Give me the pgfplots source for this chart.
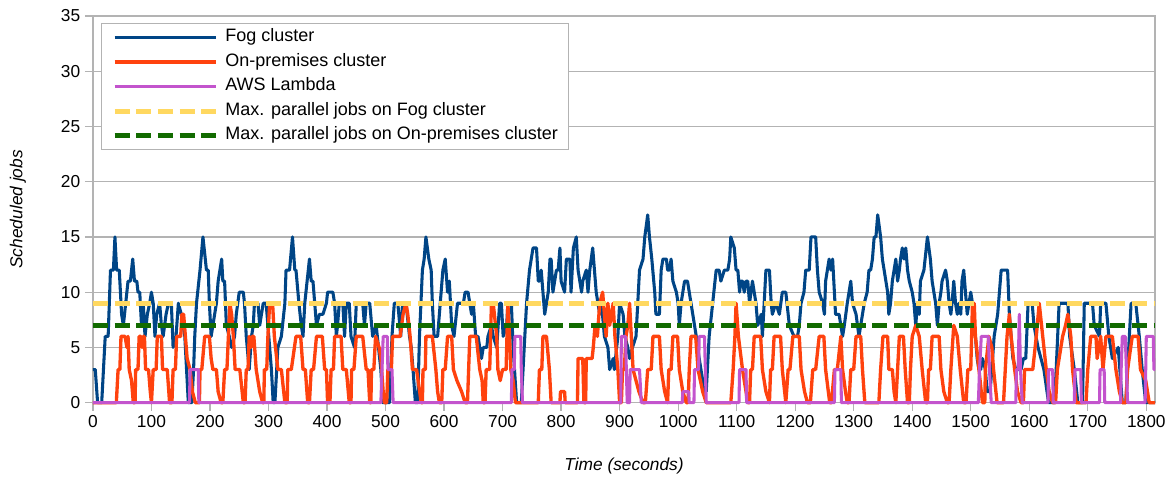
\documentclass[border=0pt]{standalone}
\usepackage{fontspec}
\setmainfont{Liberation Sans}
\usepackage{pgfplots}
\pgfplotsset{compat=1.18}

\definecolor{fogblue}{HTML}{004586}
\definecolor{premorange}{HTML}{FF420E}
\definecolor{lambdapurple}{HTML}{C354CD}
\definecolor{maxyellow}{HTML}{FFD860}
\definecolor{maxgreen}{HTML}{126B00}
\definecolor{gridgray}{HTML}{B3B3B3}

\begin{document}
\begin{tikzpicture}
\begin{axis}[
    scale only axis,
    width=797.25pt, height=290.25pt,
    xmin=0, xmax=1815,
    ymin=0, ymax=35,
    xtick={0,100,...,1800},
    ytick={0,5,...,35},
    xtick pos=bottom, ytick pos=left,
    tick align=outside,
    major tick length=6pt,
    ymajorgrids=true,
    grid style={gridgray, line width=0.9pt},
    axis line style={gridgray, line width=0.9pt},
    tick style={gridgray, line width=0.9pt},
    ticklabel style={font=\fontsize{13}{15}\selectfont},
    /pgf/number format/assume math mode=true,
    /pgf/number format/set thousands separator={},
    xlabel={\itshape Time (seconds)},
    ylabel={\itshape Scheduled jobs},
    every axis x label/.style={at={(axis description cs:0.5,0)}, anchor=center, yshift=-47.25pt, font=\fontsize{13}{15}\selectfont},
    every axis y label/.style={at={(axis description cs:0,0.5)}, anchor=center, rotate=90, yshift=56.25pt, font=\fontsize{13}{15}\selectfont},
    clip=false,
    legend cell align=left,
    legend image code/.code={\draw[#1] (0pt,0pt) -- (75.75pt,0pt);},
    legend style={
        at={(axis description cs:0.0075,0.982)}, anchor=north west,
        draw=gridgray, line width=0.9pt, fill=white,
        font=\fontsize{13.5}{15}\selectfont,
        inner xsep=8pt, inner ysep=4.2pt,
        column sep=5.5pt, row sep=5.9pt,
        nodes={inner sep=0pt, text height=9.5pt, text depth=3pt},
    },
]
\coordinate (O) at (rel axis cs:0,0);

% Fog cluster
\addplot[fogblue, line width=2.3pt, line join=round] coordinates {
(0,3)(4,3)(8,0)(15,0)(18,3)(21,6)(26,6)(30,12)(35,12)(37.6,15)(40.5,12)(45,12)(49,8)(52,7)(56,9)(60,11)(64,11)(68,13)(71,11)(75,11)(77,10)(80,10)(83,7)(86,9)(89,6)(93,8)(97,9)(100,10)(103,9)(106,6)(109,8)(114,9)(117,7)(120,6)(125,8)(129,9)(134,9)(137,5)(142,6)(146,9)(151,8)(157,6)(160,3)(163,0)(169,0)(172,3)(174,6)(177,9)(183,12)(188,15)(194,12)(197,12)(199,9)(202,6)(205,7)(211,9)(214,11)(220,13)(222,11)(225,11)(228,7)(233,6)(237,5)(242,6)(245,8)(250,10)(257,10)(259,9)(262,6)(267,3)(271,6)(274,7)(276,9)(282,9)(285,7)(291,9)(296,9)(299,7)(305,3)(308,0)(311,0)(314,3)(316,5)(322,6)(328,9)(330,12)(336,12)(341,15)(345,12)(347,12)(352,9)(356,7)(359,6)(362,9)(366,11)(370,13)(373,11)(376,11)(379,9)(382,7)(387,8)(393,8)(399,9)(401,10)(410,10)(413,9)(416,6)(418,7)(421,9)(427,9)(430,6)(433,9)(438,9)(441,6)(447,5)(450,9)(455,9)(461,9)(464,7)(467,9)(473,9)(478,6)(484,7)(492,3)(495,0)(507,0)(511,6)(515,9)(521,9)(526,6)(529,9)(535,9)(541,6)(544,5)(547,3)(551,0)(555,0)(558,6)(563,12)(566,13)(569,15)(574,13)(578,12)(580,9)(583,6)(589,6)(595,10)(598,12)(602,13)(606,10)(609,11)(613,7)(617,6)(623,9)(627,9)(633,9)(636,10)(641,10)(647,8)(650,9)(654,6)(658,6)(664,4)(667,5)(673,5)(675,6)(681,7)(684,6)(690,5)(695,9)(698,9)(701,6)(707,7)(709,9)(715,9)(718,5)(724,0)(732,0)(735,3)(741,9)(746,12)(752,14)(758,14)(761,11)(763,11)(766,12)(772,8)(778,10)(781,13)(783,13)(786,10)(792,12)(795,12)(798,14)(800,11)(806,10)(809,13)(815,13)(817,10)(821,14)(826,15)(829,12)(835,10)(837,11)(843,12)(846,10)(849,12)(854,14)(857,12)(860,10)(866,8)(869,9)(874,6)(880,5)(883,3)(889,4)(891,3)(897,6)(900,9)(906,8)(909,6)(914,5)(917,4)(922,5)(928,6)(934,12)(940,13)(943,15)(948,17)(951,15)(955,13)(960,10)(962,8)(968,8)(971,12)(974,13)(980,13)(982,12)(985,12)(988,13)(991,11)(997,10)(1000,9)(1002,7)(1005,9)(1011,11)(1016,11)(1019,10)(1022,9)(1025,8)(1028,7)(1031,6)(1036,4)(1039,3)(1045,1)(1048,1)(1053,6)(1059,9)(1065,12)(1070,12)(1073,11)(1079,12)(1085,12)(1088,13)(1090,15)(1096,14)(1099,12)(1102,12)(1105,10)(1107,11)(1110,11)(1113,10)(1116,11)(1119,11)(1122,9)(1127,11)(1133,9)(1136,7)(1142,8)(1144,6)(1147,9)(1150,12)(1156,12)(1159,9)(1161,8)(1167,9)(1173,8)(1178,10)(1184,10)(1190,7)(1198,6)(1204,6)(1207,7)(1210,9)(1215,10)(1218,12)(1224,12)(1227,15)(1235,15)(1238,12)(1241,10)(1247,9)(1250,8)(1252,11)(1255,12)(1258,13)(1261,12)(1264,13)(1267,10)(1269,8)(1275,8)(1278,7)(1281,6)(1284,7)(1289,9)(1292,10)(1295,11)(1298,9)(1304,8)(1309,6)(1312,7)(1315,8)(1318,9)(1323,10)(1326,12)(1329,12)(1332,13)(1335,15)(1338,15)(1341,17)(1346,15)(1349,13)(1352,12)(1355,11)(1358,10)(1360,8)(1363,9)(1366,11)(1369,12)(1372,13)(1375,11)(1378,12)(1380,13)(1383,14)(1386,13)(1389,14)(1392,12)(1395,11)(1400,10)(1403,9)(1406,7)(1409,9)(1412,8)(1414,11)(1420,12)(1426,15)(1431,13)(1434,11)(1437,10)(1440,9)(1443,7)(1446,9)(1449,10)(1451,11)(1457,12)(1460,11)(1463,9)(1466,8)(1468,9)(1471,11)(1474,9)(1477,8)(1480,9)(1483,8)(1485,11)(1488,12)(1491,10)(1494,8)(1497,9)(1500,10)(1503,9)(1505,8)(1508,6)(1511,4)(1514,3)(1517,3)(1520,4)(1525,3)(1528,1)(1533,1)(1536,3)(1540,6)(1546,8)(1552,12)(1563,12)(1566,8)(1572,4)(1577,3)(1586,3)(1590,4)(1594,4)(1598,9)(1605,9)(1608,7)(1615,5)(1625,3)(1633,0)(1643,0)(1646,3)(1651,9)(1666,9)(1669,6)(1677,3)(1683,0)(1691,0)(1694,9)(1708,9)(1711,7)(1720,6)(1722,9)(1731,9)(1736,6)(1742,4)(1752,5)(1759,0)(1765,0)(1771,6)(1774,9)(1782,9)(1788,6)(1793,3)(1799,0)(1815,0)
};
\addlegendentry{Fog cluster}

% On-premises cluster
\addplot[premorange, line width=2.5pt, line join=round] coordinates {
(0,0)(40,0)(43,3)(46,3)(48,6)(55,6)(58,5)(60,6)(62,3)(66,2)(69,0)(72,0)(73,3)(77,3)(79,6)(82,6)(84,5)(86,6)(88,6)(90,3)(95,3)(98,1)(100,0)(103,3)(108,3)(110,6)(117,6)(119,3)(127,3)(131,0)(135,0)(137,3)(141,3)(143,6)(150,6)(152,8)(155,8)(158,6)(161,4)(166,3)(170,1)(175,0)(182,0)(183,3)(186,3)(191,6)(199,6)(202,4)(205,3)(211,3)(214,1)(219,0)(222,0)(225,3)(229,3)(234,9)(237,8)(240,6)(243,3)(251,3)(257,0)(260,0)(262,3)(265,3)(267,6)(270,5)(272,6)(275,6)(279,3)(285,1)(290,0)(292,0)(293,3)(297,3)(299,6)(302,9)(307,9)(310,6)(316,3)(322,3)(328,0)(332,0)(333,3)(339,3)(347,6)(355,6)(359,3)(363,3)(367,0)(370,0)(373,3)(377,3)(382,6)(392,6)(396,3)(399,3)(401,0)(405,0)(407,3)(411,3)(413,6)(424,6)(427,3)(433,3)(438,0)(441,0)(442,3)(446,3)(450,6)(461,6)(467,3)(470,3)(473,0)(475,0)(476,3)(480,3)(483,6)(489,5)(492,4)(496,1)(498,0)(502,0)(504,3)(510,3)(512,6)(525,6)(530,8)(535,9)(538,8)(542,6)(546,3)(553,3)(561,0)(563,0)(564,3)(568,3)(569,6)(580,6)(586,3)(589,1)(592,0)(596,0)(598,3)(602,3)(606,6)(613,6)(616,3)(622,2)(630,1)(636,0)(640,0)(642,3)(644,6)(655,6)(661,3)(665,2)(667,0)(670,0)(672,3)(678,3)(681,9)(684,9)(690,6)(692,3)(696,2)(700,3)(706,3)(709,9)(712,6)(714,3)(718,2)(722,0)(761,0)(763,3)(767,3)(769,6)(775,6)(780,3)(783,0)(798,0)(799,1)(806,1)(807,0)(828,0)(829,4)(837,4)(839,0)(842,0)(843,4)(853,4)(855,5)(858,7)(862,6)(866,9)(871,10)(874,8)(877,6)(880,9)(883,7)(889,9)(892,6)(897,3)(900,0)(903,0)(905,3)(908,3)(911,6)(914,7)(917,9)(920,6)(923,3)(928,2)(933,1)(940,0)(944,0)(948,3)(954,3)(957,6)(968,6)(971,3)(977,1)(982,0)(984,3)(988,3)(991,6)(999,6)(1002,3)(1008,1)(1014,0)(1017,0)(1019,3)(1022,6)(1030,6)(1034,3)(1042,1)(1048,0)(1090,0)(1094,3)(1097,6)(1099,9)(1103,6)(1110,3)(1116,1)(1119,0)(1122,0)(1124,3)(1127,3)(1130,6)(1141,6)(1144,3)(1150,1)(1156,0)(1158,3)(1161,3)(1164,6)(1175,6)(1178,3)(1184,0)(1188,3)(1191,3)(1196,6)(1207,6)(1210,3)(1216,1)(1221,0)(1226,0)(1230,3)(1235,3)(1241,6)(1249,6)(1252,3)(1259,0)(1262,0)(1267,3)(1272,3)(1278,6)(1281,3)(1286,1)(1289,0)(1292,0)(1295,3)(1300,3)(1304,6)(1312,6)(1315,3)(1319,0)(1343,0)(1346,3)(1350,6)(1358,6)(1360,3)(1366,3)(1369,1)(1372,0)(1375,3)(1378,6)(1385,6)(1388,3)(1392,0)(1395,0)(1397,3)(1400,6)(1406,7)(1412,6)(1417,3)(1423,0)(1426,0)(1428,3)(1431,3)(1434,6)(1446,6)(1449,3)(1454,1)(1460,0)(1463,0)(1466,3)(1471,7)(1477,6)(1482,3)(1488,0)(1492,0)(1495,3)(1500,3)(1503,9)(1506,9)(1508,6)(1514,3)(1520,0)(1524,0)(1525,3)(1531,6)(1536,5)(1539,3)(1545,0)(1556,0)(1559,3)(1562,6)(1566,8)(1569,6)(1575,3)(1580,1)(1586,0)(1590,0)(1592,3)(1606,3)(1612,6)(1617,9)(1623,6)(1629,3)(1634,1)(1640,0)(1645,0)(1648,3)(1657,6)(1662,7)(1666,8)(1671,6)(1674,3)(1680,0)(1697,0)(1700,3)(1705,6)(1714,6)(1716,4)(1722,6)(1726,3)(1731,6)(1742,6)(1748,3)(1754,1)(1759,0)(1765,0)(1768,3)(1776,6)(1786,6)(1790,3)(1799,2)(1805,0)(1815,0)
};
\addlegendentry{On-premises cluster}

% AWS Lambda
\addplot[lambdapurple, line width=2.3pt, line join=round] coordinates {
(0,0)(165,0)(166,3)(180,3)(181,0)(492,0)(494,3)(496,6)(503,6)(504,3)(511,3)(513,0)(715,0)(716,3)(720,3)(721,6)(731,6)(732,3)(734,0)(902,0)(903,6)(910,6)(913,0)(917,0)(918,3)(934,3)(937,0)(1007,0)(1008,1)(1018,1)(1019,0)(1027,0)(1028,3)(1035,3)(1036,6)(1045,6)(1048,0)(1104,0)(1105,3)(1116,3)(1117,0)(1267,0)(1268,3)(1278,3)(1279,0)(1513,0)(1515,3)(1518,6)(1530,6)(1532,3)(1535,0)(1577,0)(1578,3)(1581,3)(1583,8)(1585,3)(1588,0)(1632,0)(1633,3)(1640,3)(1641,0)(1677,0)(1678,3)(1688,3)(1689,0)(1720,0)(1721,3)(1728,3)(1729,0)(1756,0)(1757,3)(1759,6)(1764,6)(1766,3)(1768,0)(1798,0)(1800,6)(1812,6)(1813,3)(1815,3)
};
\addlegendentry{AWS Lambda}

\addplot[maxyellow, line width=3.75pt, dash pattern=on 11.25pt off 5pt] coordinates {(0,9)(1815,9)};
\addlegendentry{Max. parallel jobs on Fog cluster}

\addplot[maxgreen, line width=3.75pt, dash pattern=on 11.25pt off 5pt] coordinates {(0,7)(1815,7)};
\addlegendentry{Max. parallel jobs on On-premises cluster}
\end{axis}
\path (O) ++(-69.75pt,-54.75pt) rectangle ++(877.5pt,357pt);
\end{tikzpicture}
\end{document}
